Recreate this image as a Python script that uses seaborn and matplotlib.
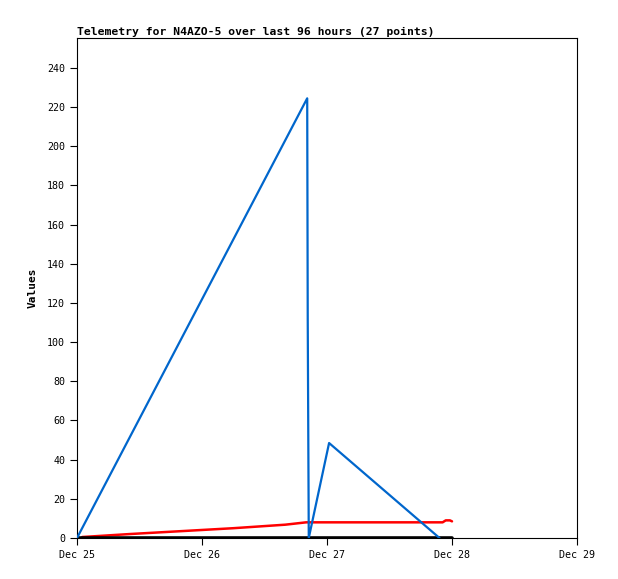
import matplotlib
matplotlib.use("Agg")
import matplotlib.pyplot as plt
import matplotlib.dates as mdates
import numpy as np
import pandas as pd
import seaborn as sns

start = pd.Timestamp("2024-12-25 00:00")

# hours after Dec 25 00:00
blue_hours = [0, 44.2, 44.3, 44.5, 48.4, 69.6]
blue_values = [0, 224.5, 112, 0, 48.5, 0]

red_hours = [1, 10, 20, 30, 40, 44, 50, 60, 66, 70.2, 70.8, 71.6, 72]
red_values = [0.5, 2.0, 3.5, 5.0, 6.8, 8.0, 8.0, 8.0, 8.0, 8.0, 9.0, 9.0, 8.5]

black_hours = [0, 12, 24, 36, 48, 60, 72]
black_values = [0, 0, 0, 0, 0, 0, 0]

y_ticks = list(range(0, 241, 20))
x_tick_days = ["2024-12-25", "2024-12-26", "2024-12-27", "2024-12-28", "2024-12-29"]


def frame(hours, values):
    return pd.DataFrame({"time": start + pd.to_timedelta(hours, unit="h"), "value": values})


sns.set_style("white")
plt.rcParams["font.family"] = ["DejaVu Sans Mono"]
plt.rcParams["text.color"] = "black"
plt.rcParams["axes.labelcolor"] = "black"

fig = plt.figure(figsize=(6.18, 5.79), dpi=100)
ax = fig.add_axes([77 / 618, 41 / 579, 500 / 618, 500 / 579])

sns.lineplot(data=frame(black_hours, black_values), x="time", y="value",
             ax=ax, color="black", linewidth=2.6, zorder=3)
sns.lineplot(data=frame(red_hours, red_values), x="time", y="value",
             ax=ax, color="#ff0000", linewidth=1.8, zorder=2)
sns.lineplot(data=frame(blue_hours, blue_values), x="time", y="value",
             ax=ax, color="#0066cc", linewidth=1.6, zorder=4)

ax.set_xlim(pd.Timestamp(x_tick_days[0]), pd.Timestamp(x_tick_days[-1]))
ax.set_ylim(0, 255.3)
ax.set_yticks(y_ticks)
ax.set_xticks([pd.Timestamp(d) for d in x_tick_days])
ax.xaxis.set_major_formatter(mdates.DateFormatter("%b %d"))

ax.tick_params(axis="both", direction="out", length=5, width=0.8,
               labelsize=7.2, color="black", labelcolor="black",
               bottom=True, left=True)
for s in ax.spines.values():
    s.set_color("black")
    s.set_linewidth(0.8)

ax.set_xlabel("")
ax.set_ylabel("Values", fontsize=8, fontweight="bold", labelpad=7, color="black")
ax.set_title("Telemetry for N4AZO-5 over last 96 hours (27 points)",
             loc="left", fontsize=8.2, fontweight="bold", pad=2, color="black")

fig.savefig("out.png", dpi=100, facecolor="white")
